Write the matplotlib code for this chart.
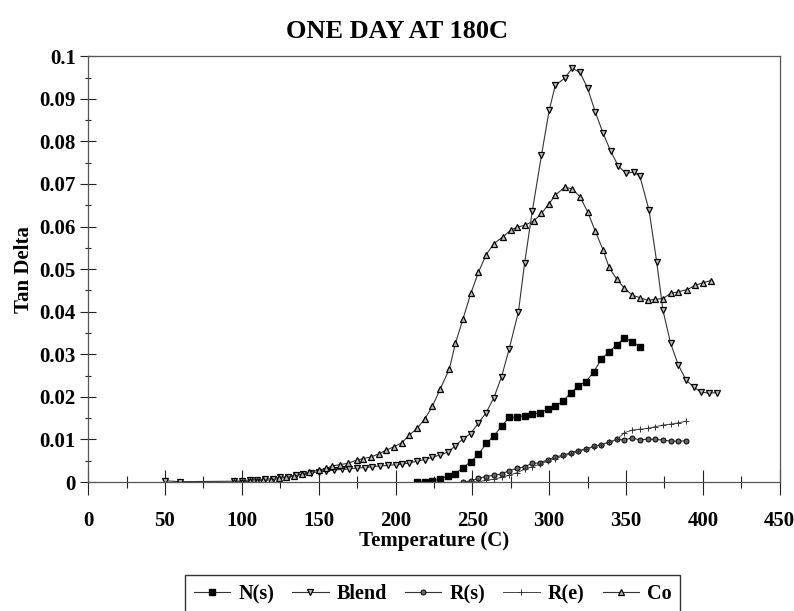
import matplotlib
matplotlib.use("Agg")
import matplotlib.pyplot as plt
from matplotlib.ticker import MultipleLocator

plt.rcParams['font.family'] = ['Liberation Serif', 'DejaVu Serif']
plt.rcParams['font.weight'] = 'bold'

# ---- data ----
ns_T = [214, 219, 224, 229, 234, 239, 244, 249, 254, 259, 264, 269, 274, 279, 284,
        289, 294, 299, 304, 309, 314, 319, 324, 329, 334, 339, 344, 349, 354, 359]
ns_V = [0.0000, 0.0001, 0.0003, 0.0007, 0.0015, 0.0020, 0.0034, 0.0048, 0.0065, 0.0091,
        0.0108, 0.0131, 0.0152, 0.0153, 0.0156, 0.0159, 0.0163, 0.0171, 0.0178, 0.0190,
        0.0209, 0.0226, 0.0236, 0.0259, 0.0289, 0.0306, 0.0322, 0.0339, 0.0329, 0.0318]

blend_T = [50, 60, 95, 100, 105, 110, 115, 120, 125, 130, 135, 140, 145, 150, 155, 160,
           165, 170, 175, 180, 185, 190, 195, 200, 204, 209, 214, 219, 224, 229, 234,
           239, 244, 249, 254, 259, 264, 269, 274, 280, 284, 289, 295, 300, 304, 310,
           315, 320, 325, 330, 335, 340, 345, 350, 355, 359, 365, 370, 374, 379, 384,
           389, 394, 399, 404, 409]
blend_V = [0.0003, 0.0001, 0.0002, 0.0003, 0.0005, 0.0006, 0.0007, 0.0008, 0.0011, 0.0013,
           0.0016, 0.0019, 0.0022, 0.0024, 0.0026, 0.0028, 0.0030, 0.0031, 0.0033, 0.0034,
           0.0036, 0.0038, 0.0039, 0.0041, 0.0042, 0.0045, 0.0049, 0.0053, 0.0058, 0.0064,
           0.0070, 0.0085, 0.0102, 0.0114, 0.0139, 0.0163, 0.0198, 0.0247, 0.0313, 0.0400,
           0.0514, 0.0636, 0.0768, 0.0873, 0.0932, 0.0948, 0.0972, 0.0962, 0.0925, 0.0869,
           0.0820, 0.0777, 0.0742, 0.0725, 0.0728, 0.0718, 0.0638, 0.0516, 0.0404, 0.0326,
           0.0275, 0.0240, 0.0223, 0.0211, 0.0209, 0.0210]

rs_T = [244, 249, 254, 259, 264, 269, 274, 279, 284, 289, 294, 299, 304, 309, 314, 319,
        324, 329, 334, 339, 344, 349, 354, 359, 364, 369, 374, 379, 384, 389]
rs_V = [0.0000, 0.0003, 0.0009, 0.0013, 0.0016, 0.0019, 0.0027, 0.0032, 0.0036, 0.0044,
        0.0045, 0.0052, 0.0059, 0.0063, 0.0069, 0.0074, 0.0078, 0.0084, 0.0088, 0.0093,
        0.0100, 0.0099, 0.0104, 0.0099, 0.0101, 0.0100, 0.0099, 0.0096, 0.0096, 0.0097]

re_T = [249, 254, 259, 264, 269, 274, 279, 284, 289, 294, 299, 304, 309, 314, 319, 324,
        329, 334, 339, 344, 349, 354, 359, 364, 369, 374, 379, 384, 389]
re_V = [0.0000, 0.0001, 0.0004, 0.0007, 0.0011, 0.0016, 0.0022, 0.0030, 0.0036, 0.0042,
        0.0049, 0.0055, 0.0061, 0.0066, 0.0072, 0.0077, 0.0083, 0.0088, 0.0094, 0.0100,
        0.0116, 0.0122, 0.0124, 0.0126, 0.0130, 0.0134, 0.0136, 0.0139, 0.0143]

co_T = [95, 100, 105, 110, 114, 119, 124, 129, 134, 139, 144, 150, 155, 159, 164, 169,
        175, 179, 184, 189, 194, 199, 204, 209, 214, 219, 224, 229, 235, 239, 244, 249,
        254, 259, 264, 270, 275, 279, 284, 290, 295, 300, 304, 310, 315, 320, 325, 330,
        335, 339, 344, 349, 354, 359, 364, 369, 374, 379, 384, 390, 395, 400, 405]
co_V = [0.0001, 0.0001, 0.0002, 0.0003, 0.0004, 0.0005, 0.0009, 0.0011, 0.0014, 0.0018,
        0.0024, 0.0028, 0.0032, 0.0038, 0.0041, 0.0044, 0.0052, 0.0055, 0.0059, 0.0066,
        0.0075, 0.0083, 0.0092, 0.0110, 0.0126, 0.0148, 0.0178, 0.0218, 0.0265, 0.0326,
        0.0384, 0.0443, 0.0493, 0.0534, 0.0560, 0.0576, 0.0592, 0.0598, 0.0603, 0.0613,
        0.0631, 0.0654, 0.0674, 0.0692, 0.0689, 0.0670, 0.0635, 0.0589, 0.0546, 0.0504,
        0.0476, 0.0455, 0.0439, 0.0433, 0.0427, 0.0429, 0.0431, 0.0443, 0.0447, 0.0452,
        0.0462, 0.0468, 0.0473]

series_labels = ['N(s)', 'Blend', 'R(s)', 'R(e)', 'Co']
y_ticks = [0, 0.01, 0.02, 0.03, 0.04, 0.05, 0.06, 0.07, 0.08, 0.09, 0.1]
y_tick_labels = ['0', '0.01', '0.02', '0.03', '0.04', '0.05', '0.06', '0.07',
                 '0.08', '0.09', '0.1']

fig = plt.figure(figsize=(7.94, 6.11), dpi=100)
ax = fig.add_axes([0.111, 0.211, 0.871, 0.697])

lc = '#333333'
ax.plot(ns_T, ns_V, color=lc, lw=0.8, marker='s', ms=4.4, mfc='black', mec='black',
        label=series_labels[0])
ax.plot(blend_T, blend_V, color=lc, lw=0.8, marker='v', ms=4.4, mfc='#bbbbbb', mec='black',
        mew=0.9, label=series_labels[1])
ax.plot(rs_T, rs_V, color=lc, lw=0.8, marker='o', ms=3.6, mfc='#666666', mec='black',
        mew=0.7, label=series_labels[2])
ax.plot(re_T, re_V, color='#444444', lw=0.7, marker='+', ms=4, mec='#333333',
        mew=0.7, label=series_labels[3])
ax.plot(co_T, co_V, color=lc, lw=0.8, marker='^', ms=4.4, mfc='#bbbbbb', mec='black',
        mew=0.9, label=series_labels[4])

ax.set_xlim(0, 450)
ax.set_ylim(0, 0.1)
ax.xaxis.set_major_locator(MultipleLocator(50))
ax.xaxis.set_minor_locator(MultipleLocator(25))
ax.set_yticks(y_ticks)
ax.set_yticklabels(y_tick_labels)
ax.yaxis.set_minor_locator(MultipleLocator(0.005))
ax.tick_params(axis='both', which='major', direction='inout', width=0.8,
               labelsize=15, colors='#222222', labelcolor='black')
ax.tick_params(axis='x', which='major', length=18, pad=12)
ax.tick_params(axis='y', which='major', length=12, pad=3)
ax.tick_params(axis='both', which='minor', direction='inout', length=8, width=0.8,
               colors='#222222')
ax.tick_params(axis='y', which='minor', length=5)
for s in ax.spines.values():
    s.set_color('#555555')
    s.set_linewidth(0.9)

ax.set_xlabel('Temperature (C)', fontsize=15, fontweight='bold', labelpad=0)
ax.set_ylabel('Tan Delta', fontsize=15, fontweight='bold', labelpad=4)
fig.text(0.5, 0.948, 'ONE DAY AT 180C', ha='center', va='center', fontsize=19,
         fontweight='bold')

leg = fig.legend(loc='upper center', bbox_to_anchor=(0.545, 0.059), ncol=5,
                 fontsize=14.5, frameon=True, fancybox=False, edgecolor='black',
                 handlelength=1.8, columnspacing=0.9, handletextpad=0.4,
                 borderaxespad=0, borderpad=0.45)
leg.get_frame().set_linewidth(1.0)

fig.savefig('out.png', dpi=100)
